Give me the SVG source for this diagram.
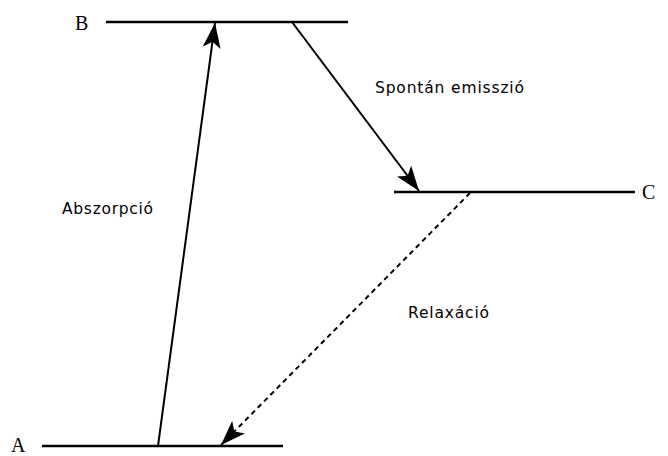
<svg xmlns="http://www.w3.org/2000/svg" width="668" height="456" viewBox="0 0 668 456">
<style>
.lvl{stroke:#000;stroke-width:2.5;fill:none}
.arr{stroke:#000;stroke-width:2;fill:none;marker-end:url(#ah)}
.dash{stroke-dasharray:5,4}
.lab{font-family:"Liberation Serif",serif;font-size:20px;fill:#000}
.txt{font-family:"DejaVu Sans",sans-serif;font-size:15.5px;fill:#000}
</style>
<defs>
<marker id="ah" viewBox="0 0 26 18" refX="25" refY="9" markerWidth="26" markerHeight="18" markerUnits="userSpaceOnUse" orient="auto">
<path d="M25,9 L0,0 L6,9 L0,18 Z" fill="#000"/>
</marker>
</defs>
<g id="levelB"><line class="lvl" x1="106" y1="22" x2="348" y2="22"/><text class="lab" x="75" y="30">B</text></g>
<g id="levelC"><line class="lvl" x1="394" y1="192" x2="635" y2="192"/><text class="lab" x="642" y="199">C</text></g>
<g id="levelA"><line class="lvl" x1="42" y1="446" x2="283" y2="446"/><text class="lab" x="11" y="452">A</text></g>
<g id="connectors">
<line class="arr" x1="158" y1="446" x2="215" y2="23"/>
<line class="arr" x1="292" y1="22" x2="419" y2="191"/>
<line class="arr dash" x1="470" y1="193" x2="221" y2="445"/>
</g>
<g id="labels">
<text class="txt" x="375" y="93" textLength="149">Spontán emisszió</text>
<text class="txt" x="62" y="214" textLength="91">Abszorpció</text>
<text class="txt" x="408" y="318" textLength="81">Relaxáció</text>
</g>
</svg>
